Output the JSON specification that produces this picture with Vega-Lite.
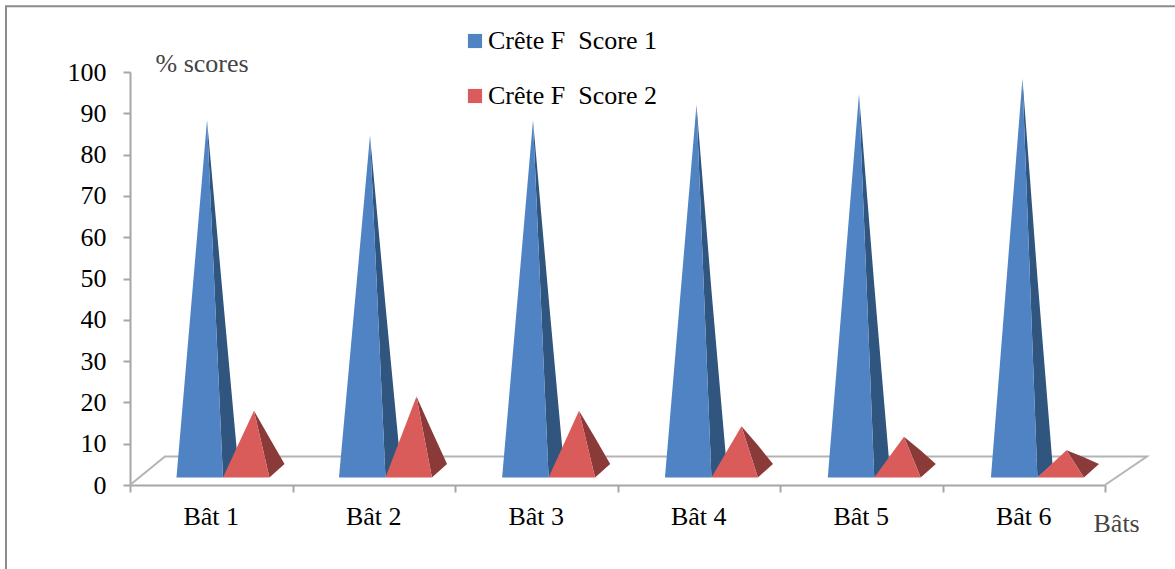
{"$schema":"https://vega.github.io/schema/vega-lite/v6.json","width":975,"height":413,"autosize":"none","padding":{"left":130,"top":72,"right":70,"bottom":84},"background":"white","config":{"view":{"stroke":null}},
"encoding":{"x":{"field":"x","type":"quantitative","scale":{"domain":[0,6],"nice":false,"zero":false},"axis":{"values":[0,1,2,3,4,5,6],"labels":false,"grid":false,"domainColor":"#A6A6A6","domainWidth":2,"tickColor":"#A6A6A6","tickWidth":2,"tickSize":7,"title":"Bâts","titleFont":"Liberation Serif","titleFontSize":26,"titleFontWeight":"normal","titleColor":"#444444","titleX":963,"titleY":46,"titleAlign":"left","titleBaseline":"alphabetic"}},
"y":{"field":"y","type":"quantitative","scale":{"domain":[0,100],"nice":false},"axis":{"values":[0,10,20,30,40,50,60,70,80,90,100],"grid":false,"domainColor":"#A6A6A6","domainWidth":2,"tickColor":"#A6A6A6","tickWidth":2,"tickSize":7,"labelFont":"Liberation Serif","labelFontSize":26,"labelColor":"#000000","labelPadding":17,"title":"% scores","titleFont":"Liberation Serif","titleFontSize":26,"titleFontWeight":"normal","titleColor":"#444444","titleAngle":0,"titleX":25,"titleY":-1,"titleAlign":"left","titleBaseline":"alphabetic"}}},
"layer":[
{"data":{"values":[{"part":"cadre","o":1,"x":-0.763,"y":-20.5},{"part":"cadre","o":2,"x":-0.763,"y":115.9},{"part":"cadre","o":3,"x":6.43,"y":115.9}]},"mark":{"type":"line","color":"#8C8C8C","strokeWidth":2},"encoding":{"order":{"field":"o"},"detail":{"field":"part"}}},
{"data":{"values":[{"part":"sol","o":1,"x":0,"y":0},{"part":"sol","o":2,"x":0.215,"y":6.9},{"part":"sol","o":3,"x":6.258,"y":6.9},{"part":"sol","o":4,"x":6,"y":0}]},"mark":{"type":"line","color":"#B4B4B4","strokeWidth":2},"encoding":{"order":{"field":"o"},"detail":{"field":"part"}}},
{"data":{"values":[
{"p":"1a","s":"Score 1 côté","x":0.474,"y":88.3,"y2":88.3},{"p":"1a","s":"Score 1 côté","x":0.572,"y":45.4,"y2":1.8},{"p":"1a","s":"Score 1 côté","x":0.665,"y":5.1,"y2":5.1},
{"p":"1b","s":"Crête F\u00a0\u00a0Score 1","x":0.286,"y":1.8,"y2":1.8},{"p":"1b","s":"Crête F\u00a0\u00a0Score 1","x":0.474,"y":88.3,"y2":1.8},{"p":"1b","s":"Crête F\u00a0\u00a0Score 1","x":0.572,"y":1.8,"y2":1.8},
{"p":"1c","s":"Score 2 côté","x":0.763,"y":18,"y2":18},{"p":"1c","s":"Score 2 côté","x":0.858,"y":11.45,"y2":1.8},{"p":"1c","s":"Score 2 côté","x":0.951,"y":5.1,"y2":5.1},
{"p":"1d","s":"Crête F\u00a0\u00a0Score 2","x":0.572,"y":1.8,"y2":1.8},{"p":"1d","s":"Crête F\u00a0\u00a0Score 2","x":0.763,"y":18,"y2":1.8},{"p":"1d","s":"Crête F\u00a0\u00a0Score 2","x":0.858,"y":1.8,"y2":1.8},
{"p":"2a","s":"Score 1 côté","x":1.477,"y":84.6,"y2":84.6},{"p":"2a","s":"Score 1 côté","x":1.572,"y":43.6,"y2":1.8},{"p":"2a","s":"Score 1 côté","x":1.665,"y":5.1,"y2":5.1},
{"p":"2b","s":"Crête F\u00a0\u00a0Score 1","x":1.286,"y":1.8,"y2":1.8},{"p":"2b","s":"Crête F\u00a0\u00a0Score 1","x":1.477,"y":84.6,"y2":1.8},{"p":"2b","s":"Crête F\u00a0\u00a0Score 1","x":1.572,"y":1.8,"y2":1.8},
{"p":"2c","s":"Score 2 côté","x":1.763,"y":21.4,"y2":21.4},{"p":"2c","s":"Score 2 côté","x":1.858,"y":13.1,"y2":1.8},{"p":"2c","s":"Score 2 côté","x":1.951,"y":5.1,"y2":5.1},
{"p":"2d","s":"Crête F\u00a0\u00a0Score 2","x":1.572,"y":1.8,"y2":1.8},{"p":"2d","s":"Crête F\u00a0\u00a0Score 2","x":1.763,"y":21.4,"y2":1.8},{"p":"2d","s":"Crête F\u00a0\u00a0Score 2","x":1.858,"y":1.8,"y2":1.8},
{"p":"3a","s":"Score 1 côté","x":2.48,"y":88.3,"y2":88.3},{"p":"3a","s":"Score 1 côté","x":2.576,"y":45.4,"y2":1.8},{"p":"3a","s":"Score 1 côté","x":2.669,"y":5.1,"y2":5.1},
{"p":"3b","s":"Crête F\u00a0\u00a0Score 1","x":2.29,"y":1.8,"y2":1.8},{"p":"3b","s":"Crête F\u00a0\u00a0Score 1","x":2.48,"y":88.3,"y2":1.8},{"p":"3b","s":"Crête F\u00a0\u00a0Score 1","x":2.576,"y":1.8,"y2":1.8},
{"p":"3c","s":"Score 2 côté","x":2.763,"y":18,"y2":18},{"p":"3c","s":"Score 2 côté","x":2.862,"y":11.45,"y2":1.8},{"p":"3c","s":"Score 2 côté","x":2.955,"y":5.1,"y2":5.1},
{"p":"3d","s":"Crête F\u00a0\u00a0Score 2","x":2.576,"y":1.8,"y2":1.8},{"p":"3d","s":"Crête F\u00a0\u00a0Score 2","x":2.763,"y":18,"y2":1.8},{"p":"3d","s":"Crête F\u00a0\u00a0Score 2","x":2.862,"y":1.8,"y2":1.8},
{"p":"4a","s":"Score 1 côté","x":3.486,"y":92.1,"y2":92.1},{"p":"4a","s":"Score 1 côté","x":3.578,"y":47.2,"y2":1.8},{"p":"4a","s":"Score 1 côté","x":3.671,"y":5.1,"y2":5.1},
{"p":"4b","s":"Crête F\u00a0\u00a0Score 1","x":3.292,"y":1.8,"y2":1.8},{"p":"4b","s":"Crête F\u00a0\u00a0Score 1","x":3.486,"y":92.1,"y2":1.8},{"p":"4b","s":"Crête F\u00a0\u00a0Score 1","x":3.578,"y":1.8,"y2":1.8},
{"p":"4c","s":"Score 2 côté","x":3.763,"y":14.2,"y2":14.2},{"p":"4c","s":"Score 2 côté","x":3.864,"y":9.6,"y2":1.8},{"p":"4c","s":"Score 2 côté","x":3.957,"y":5.1,"y2":5.1},
{"p":"4d","s":"Crête F\u00a0\u00a0Score 2","x":3.578,"y":1.8,"y2":1.8},{"p":"4d","s":"Crête F\u00a0\u00a0Score 2","x":3.763,"y":14.2,"y2":1.8},{"p":"4d","s":"Crête F\u00a0\u00a0Score 2","x":3.864,"y":1.8,"y2":1.8},
{"p":"5a","s":"Score 1 côté","x":4.486,"y":94.6,"y2":94.6},{"p":"5a","s":"Score 1 côté","x":4.58,"y":48.4,"y2":1.8},{"p":"5a","s":"Score 1 côté","x":4.673,"y":5.1,"y2":5.1},
{"p":"5b","s":"Crête F\u00a0\u00a0Score 1","x":4.294,"y":1.8,"y2":1.8},{"p":"5b","s":"Crête F\u00a0\u00a0Score 1","x":4.486,"y":94.6,"y2":1.8},{"p":"5b","s":"Crête F\u00a0\u00a0Score 1","x":4.58,"y":1.8,"y2":1.8},
{"p":"5c","s":"Score 2 côté","x":4.763,"y":11.7,"y2":11.7},{"p":"5c","s":"Score 2 côté","x":4.866,"y":8.35,"y2":1.8},{"p":"5c","s":"Score 2 côté","x":4.959,"y":5.1,"y2":5.1},
{"p":"5d","s":"Crête F\u00a0\u00a0Score 2","x":4.58,"y":1.8,"y2":1.8},{"p":"5d","s":"Crête F\u00a0\u00a0Score 2","x":4.763,"y":11.7,"y2":1.8},{"p":"5d","s":"Crête F\u00a0\u00a0Score 2","x":4.866,"y":1.8,"y2":1.8},
{"p":"6a","s":"Score 1 côté","x":5.492,"y":98.4,"y2":98.4},{"p":"6a","s":"Score 1 côté","x":5.584,"y":50.3,"y2":1.8},{"p":"6a","s":"Score 1 côté","x":5.677,"y":5.1,"y2":5.1},
{"p":"6b","s":"Crête F\u00a0\u00a0Score 1","x":5.298,"y":1.8,"y2":1.8},{"p":"6b","s":"Crête F\u00a0\u00a0Score 1","x":5.492,"y":98.4,"y2":1.8},{"p":"6b","s":"Crête F\u00a0\u00a0Score 1","x":5.584,"y":1.8,"y2":1.8},
{"p":"6c","s":"Score 2 côté","x":5.763,"y":8.4,"y2":8.4},{"p":"6c","s":"Score 2 côté","x":5.87,"y":6.72,"y2":1.8},{"p":"6c","s":"Score 2 côté","x":5.963,"y":5.1,"y2":5.1},
{"p":"6d","s":"Crête F\u00a0\u00a0Score 2","x":5.584,"y":1.8,"y2":1.8},{"p":"6d","s":"Crête F\u00a0\u00a0Score 2","x":5.763,"y":8.4,"y2":1.8},{"p":"6d","s":"Crête F\u00a0\u00a0Score 2","x":5.87,"y":1.8,"y2":1.8}
]},"mark":{"type":"area","interpolate":"linear","opacity":1},"encoding":{"y2":{"field":"y2"},"detail":{"field":"p"},"color":{"field":"s","type":"nominal","sort":null,"scale":{"domain":["Crête F\u00a0\u00a0Score 1","Crête F\u00a0\u00a0Score 2","Score 1 côté","Score 2 côté"],"range":["#5083C4","#D95C5A","#30567F","#8B3A3A"]},"legend":{"values":["Crête F\u00a0\u00a0Score 1","Crête F\u00a0\u00a0Score 2"],"orient":"none","legendX":332,"legendY":-44,"padding":0,"title":null,"symbolType":"square","symbolSize":200,"symbolOpacity":1,"symbolStrokeWidth":0,"labelFont":"Liberation Serif","labelFontSize":26,"labelColor":"#000000","labelOffset":0,"rowPadding":29,"labelLimit":300,"encode":{"symbols":{"update":{"fill":{"signal":"indexof(datum.label,'1')>0?'#4F81BD':'#C0504D'"}}}}}}}},
{"data":{"values":[{"b":"Bât 1","x":0.5,"y":0},{"b":"Bât 2","x":1.5,"y":0},{"b":"Bât 3","x":2.5,"y":0},{"b":"Bât 4","x":3.5,"y":0},{"b":"Bât 5","x":4.5,"y":0},{"b":"Bât 6","x":5.5,"y":0}]},"mark":{"type":"text","font":"Liberation Serif","fontSize":26,"color":"#000000","baseline":"alphabetic","align":"center","dy":40},"encoding":{"text":{"field":"b"}}}
]}
